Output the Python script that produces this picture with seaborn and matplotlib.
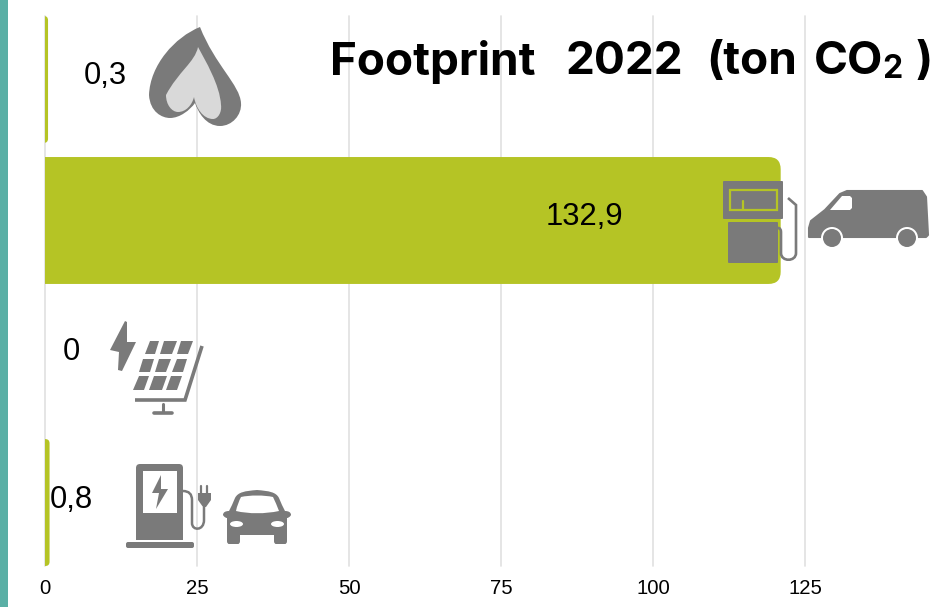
import pandas as pd
import seaborn as sns
import matplotlib.pyplot as plt
from matplotlib.patches import Rectangle, FancyBboxPatch, Circle, Ellipse, Polygon, PathPatch
from matplotlib.path import Path

# Data (the drawn bar lengths differ from the printed labels in the original)
categories = ["Gas", "Diesel", "Zon", "Elektrisch"]
bar_values = [0.5, 121.0, 0.0, 0.75]
bar_labels = ["0,3", "132,9", "0", "0,8"]
x_ticks = [0, 25, 50, 75, 100, 125]

# label offset from the start of each bar, in pixels
label_dx = [60, 539, 26, 26]
label_dy = [3, 3, 10, 3]

LIME = "#b5c425"
GRAY = "#7a7a7a"
TEAL = "#5aafa5"

sns.set_theme(style="white")
plt.rcParams["font.family"] = ["Liberation Sans", "DejaVu Sans"]

W, H = 943, 607
fig = plt.figure(figsize=(W / 100, H / 100), dpi=100)
ax = fig.add_axes([45 / W, (H - 566) / H, (W - 45) / W, 550 / H])

df = pd.DataFrame({"categorie": categories, "waarde": bar_values})
sns.barplot(data=df, x="waarde", y="categorie", orient="h", color=LIME, width=0.9,
            saturation=1, ax=ax)
ax.set_xlim(0, (W - 45) / 6.08)
ax.set_ylim(3.45, -0.45)

# swap the plain bars for ones with rounded ends, left end is clipped by the axes
aspect = (550 / 3.9) / 6.08
for patch, value in zip(list(ax.patches), bar_values):
    y, h = patch.get_y(), patch.get_height()
    patch.remove()
    if value <= 0:
        continue
    r = 2.0 if value > 5 else 0.7
    ax.add_patch(FancyBboxPatch((-r, y), value + r, h, boxstyle=f"round,pad=0,rounding_size={r}",
                                mutation_aspect=1 / aspect, fc=LIME, ec="none", zorder=2))

ax.set_xticks(x_ticks)
ax.set_xticklabels([str(t) for t in x_ticks], fontsize=14.6, color="black")
ax.set_yticks([])
ax.set_xlabel("")
ax.set_ylabel("")
ax.grid(axis="x", color="#e0e0e0", linewidth=1.2, zorder=0)
for gl in ax.get_xgridlines():
    gl.set_clip_on(False)
ax.set_axisbelow(True)
ax.tick_params(axis="x", length=0, pad=9)
sns.despine(ax=ax, left=True, bottom=True, top=True, right=True)

for i, txt in enumerate(bar_labels):
    ax.annotate(txt, xy=(0, i), xytext=(label_dx[i], label_dy[i]), textcoords="offset pixels",
                ha="center", va="center", fontsize=22.3, color="black", zorder=5)

# Overlay in pixel coordinates for the stripe, title and icons
ov = fig.add_axes([0, 0, 1, 1])
ov.set_xlim(0, W)
ov.set_ylim(H, 0)
ov.axis("off")
ov.patch.set_alpha(0)

ov.add_patch(Rectangle((0, 0), 8, H, fc=TEAL, ec="none"))

# title word by word, the original font is wider than anything installed
title_font = dict(family=["Inter", "DejaVu Sans"], fontweight="bold", color="black", va="baseline", ha="left")
for word, x in [("Footprint", 330), ("2022", 566), ("(ton", 706), ("CO", 814)]:
    ov.text(x, 74.5, word, fontsize=33, **title_font)
ov.text(882, 78, "2", fontsize=23, **title_font)
ov.text(916, 74.5, ")", fontsize=33, **title_font)


def curve(start, segs, color):
    verts = [start]
    codes = [Path.MOVETO]
    for s in segs:
        verts.extend(s)
        codes.extend([Path.CURVE4] * 3)
    verts.append(start)
    codes.append(Path.CLOSEPOLY)
    ov.add_patch(PathPatch(Path(verts, codes), fc=color, ec="none"))


def poly(pts, color=GRAY, **kw):
    ov.add_patch(Polygon(pts, closed=True, fc=color, ec="none", **kw))


def rrect(x0, y0, x1, y1, r=1.5, color=GRAY):
    ov.add_patch(FancyBboxPatch((x0, y0), x1 - x0, y1 - y0, boxstyle=f"round,pad=0,rounding_size={r}",
                                fc=color, ec="none"))


def line(xs, ys, lw, color=GRAY):
    ov.plot(xs, ys, color=color, lw=lw, solid_capstyle="round", solid_joinstyle="round")


# flame
curve((200, 27), [[(175, 37), (150, 65), (149, 95)], [(150, 112), (162, 118), (170, 118)],
                  [(180, 118), (190, 110), (195, 103)], [(198, 112), (206, 126), (220, 126)],
                  [(232, 126), (242, 115), (241, 103)], [(240, 85), (215, 65), (200, 27)]], GRAY)
curve((198, 47), [[(195, 62), (178, 72), (166, 95)], [(166, 105), (172, 112), (178, 112)],
                  [(186, 112), (192, 105), (194, 97)], [(196, 108), (203, 119), (213, 119)],
                  [(218, 119), (222, 112), (221, 105)], [(220, 85), (205, 60), (198, 47)]], "#d9d9d9")

# fuel pump
rrect(723, 181, 783, 219, 1)
rrect(728, 222, 778, 263, 1)
ov.add_patch(Rectangle((729.5, 190), 47, 20, fc="none", ec=LIME, lw=1.6))
line([743, 743], [201, 209], 1.6, LIME)
hose_v = [(788, 198), (796, 205), (796, 253), (796, 262), (781, 262), (781, 253), (781, 232), (781, 228), (778, 228)]
hose_c = [Path.MOVETO, Path.LINETO, Path.LINETO, Path.CURVE4, Path.CURVE4, Path.CURVE4, Path.LINETO,
          Path.CURVE3, Path.CURVE3]
ov.add_patch(PathPatch(Path(hose_v, hose_c), fc="none", ec=GRAY, lw=1.9))

# van
ov.add_patch(Polygon([(809, 237), (809, 228), (811, 221), (825, 210), (840, 194), (847, 191), (922, 191),
                      (926, 197), (928, 235), (926, 237)], closed=True, fc=GRAY, ec=GRAY, lw=1.5, joinstyle="round"))
poly([(830, 210), (842, 196), (850, 196), (852, 198), (852, 208), (850, 210)], "white")
for cx in [832, 907]:
    ov.add_patch(Circle((cx, 238), 11, fc="white", ec="none"))
    ov.add_patch(Circle((cx, 238), 9, fc=GRAY, ec="none"))

# solar panel
poly([(125, 321), (127, 322), (127, 342), (136, 342), (122, 371), (118, 370), (119, 352), (110, 350)])
cells = [[(150, 341), (159, 341), (155, 354), (145, 354)], [(164, 341), (177, 341), (172, 354), (160, 354)],
         [(181, 341), (193, 341), (188, 354), (177, 354)], [(143, 359), (154, 359), (150, 372), (139, 372)],
         [(159, 359), (171, 359), (166, 372), (155, 372)], [(177, 359), (187, 359), (183, 372), (172, 372)],
         [(139, 376), (149, 376), (144, 390), (133, 390)], [(154, 376), (167, 376), (162, 390), (149, 390)],
         [(171, 376), (182, 376), (177, 390), (166, 390)]]
for c in cells:
    poly(c)
ov.plot([202, 185, 135], [346, 400, 400], color=GRAY, lw=2.6, solid_joinstyle="miter", solid_capstyle="butt")
line([163, 163], [404, 412], 2.2)
line([154, 172], [413, 413], 2.6)

# charging station
rrect(136, 464, 183, 540, 4)
ov.add_patch(Rectangle((136, 530), 47, 10, fc=GRAY, ec="none"))
ov.add_patch(Rectangle((143, 471), 34, 42, fc="white", ec="none"))
poly([(161, 475), (152, 493), (159, 493), (156, 509), (168, 489), (161, 489)])
rrect(126, 542, 194, 548, 2)
cable_v = [(183, 491), (192, 491), (192, 500), (192, 523), (192, 531), (204, 531), (204, 520), (204, 507)]
cable_c = [Path.MOVETO, Path.CURVE3, Path.CURVE3, Path.LINETO, Path.CURVE4, Path.CURVE4, Path.CURVE4, Path.LINETO]
ov.add_patch(PathPatch(Path(cable_v, cable_c), fc="none", ec=GRAY, lw=1.8))
poly([(198, 493), (211, 493), (211, 500), (206, 507), (203, 507), (198, 500)])
line([201, 201], [486, 493], 1.6)
line([207, 207], [486, 493], 1.6)

# car
curve((235, 498), [[(238, 492), (245, 491), (257, 490)], [(269, 491), (276, 492), (279, 498)],
                   [(281, 503), (283, 507), (285, 511)], [(288, 511), (291, 512), (291, 515)],
                   [(290, 517), (288, 518), (287, 518)], [(287, 526), (287, 535), (287, 541)],
                   [(287, 543), (286, 544), (285, 544)], [(281, 544), (278, 544), (276, 544)],
                   [(275, 544), (274, 543), (274, 541)], [(274, 539), (274, 537), (274, 535)],
                   [(262, 535), (252, 535), (240, 535)], [(240, 537), (240, 539), (240, 541)],
                   [(240, 543), (239, 544), (238, 544)], [(235, 544), (232, 544), (229, 544)],
                   [(228, 544), (227, 543), (227, 541)], [(227, 535), (227, 526), (227, 518)],
                   [(226, 518), (224, 517), (223, 515)], [(223, 512), (226, 511), (229, 511)],
                   [(231, 507), (233, 503), (235, 498)]], GRAY)
curve((241, 497), [[(250, 495), (264, 495), (273, 497)], [(275, 501), (277, 506), (279, 511)],
                   [(265, 514), (249, 514), (236, 511)], [(237, 506), (239, 501), (241, 497)]], "white")
ov.add_patch(Ellipse((236.5, 524), 13, 6, fc="white", ec="none"))
ov.add_patch(Ellipse((277.5, 524), 13, 6, fc="white", ec="none"))

fig.savefig("out.png", dpi=100)
